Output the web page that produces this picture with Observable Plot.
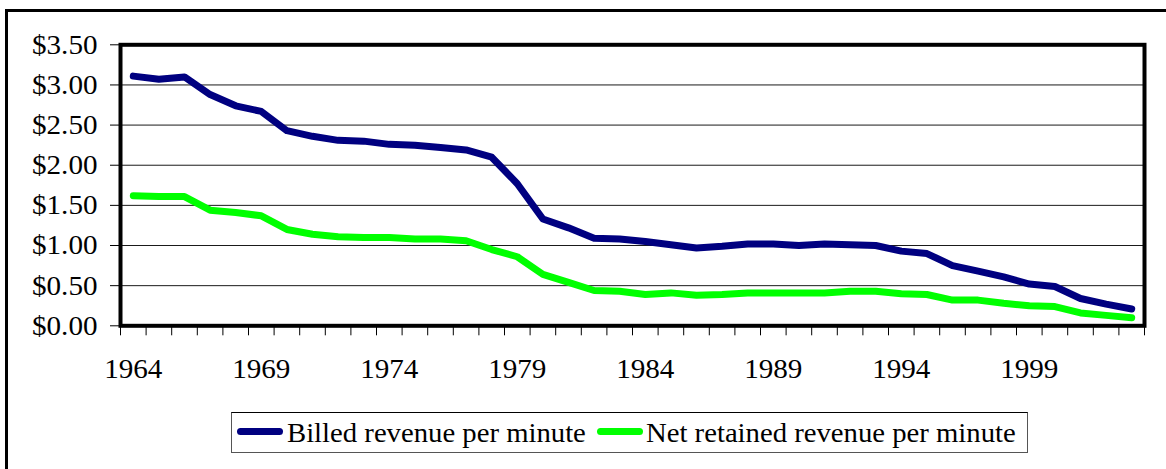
<!DOCTYPE html>
<html><head><meta charset="utf-8">
<script src="https://cdn.jsdelivr.net/npm/d3@7"></script>
<script src="https://cdn.jsdelivr.net/npm/@observablehq/plot@0.6"></script>
<style>
html,body{margin:0;padding:0;background:#fff;overflow:hidden;}
#wrap{position:relative;width:1166px;height:469px;overflow:hidden;font-family:"Liberation Serif","Times New Roman",serif;color:#000;}
#outer{position:absolute;left:5px;top:9px;width:1400px;height:700px;border:3px solid #000;box-sizing:border-box;}
#chart{position:absolute;left:0;top:0;}
#legend{position:absolute;left:231px;top:412px;width:797px;height:41px;box-sizing:border-box;border:1px solid #555;border-top-color:#000;display:flex;align-items:center;font-size:28px;background:#fff;}
.sw{width:46px;height:7px;border-radius:4px;position:relative;top:-1.5px;flex:none;}
.lt{display:inline-block;white-space:nowrap;transform-origin:0 50%;}
</style></head><body>
<div id="wrap"><div id="outer"></div><div id="chart"></div><div id="legend"></div></div>
<script>
const years = [1964,1965,1966,1967,1968,1969,1970,1971,1972,1973,
               1974,1975,1976,1977,1978,1979,1980,1981,1982,1983,
               1984,1985,1986,1987,1988,1989,1990,1991,1992,1993,
               1994,1995,1996,1997,1998,1999,2000,2001,2002,2003];
const billed = [3.11,3.07,3.10,2.88,2.74,2.67,2.43,2.36,2.31,2.30,
                2.26,2.25,2.22,2.19,2.10,1.77,1.33,1.22,1.09,1.08,
                1.05,1.01,0.97,0.99,1.02,1.02,1.00,1.02,1.01,1.00,
                0.93,0.90,0.75,0.68,0.61,0.52,0.49,0.34,0.27,0.21];
const net = [1.62,1.61,1.61,1.44,1.41,1.37,1.20,1.14,1.11,1.10,
             1.10,1.08,1.08,1.06,0.95,0.86,0.64,0.54,0.44,0.43,
             0.39,0.41,0.38,0.39,0.41,0.41,0.41,0.41,0.43,0.43,
             0.40,0.39,0.32,0.32,0.28,0.25,0.24,0.16,0.13,0.10];
const seriesNames = ["Billed revenue per minute","Net retained revenue per minute"];
const seriesColors = ["#000080","#00ff00"];
const yTicks = [0,0.5,1,1.5,2,2.5,3,3.5];
const labelYears = [1964,1969,1974,1979,1984,1989,1994,1999];

const K = 1.04;   // slight horizontal stretch of the reference axis text
const KL = 1.025; // legend text stretch
const rows = [];
years.forEach((yr,i)=>{
  rows.push({year:yr, value:billed[i], series:seriesNames[0]});
  rows.push({year:yr, value:net[i], series:seriesNames[1]});
});
const edges = years.map(y=>y-0.5).concat([years[years.length-1]+0.5]);

const H = 390;
const plot = Plot.plot({
  width:1166, height:H,
  marginLeft:120, marginRight:22, marginTop:44.3, marginBottom:H-325.3,
  style:{fontFamily:'"Liberation Serif","Times New Roman",serif', fontSize:"28px", color:"#000", background:"transparent", overflow:"visible"},
  x:{type:"linear", domain:[edges[0], edges[edges.length-1]]},
  y:{domain:[0,3.5]},
  color:{domain:seriesNames, range:seriesColors},
  marks:[
    Plot.gridY(yTicks.filter(v=>v>0 && v<3.5), {stroke:"#1a1a1a", strokeOpacity:1, strokeWidth:1}),
    Plot.axisY(yTicks, {tickSize:10, tickPadding:13, tickFormat:d3.format("$.2f"), label:null}),
    Plot.axisX(edges, {tickSize:10, tickFormat:()=>"", label:null}),
    Plot.axisX(labelYears, {tickSize:0, tickPadding:32, tickFormat:d=>String(d), label:null}),
    Plot.line(rows, {x:"year", y:"value", z:"series", stroke:"series", strokeWidth:7, strokeLinejoin:"round", strokeLinecap:"round"}),
    Plot.frame({stroke:"#000", strokeWidth:4})
  ]
});
document.getElementById("chart").appendChild(plot);
plot.querySelectorAll("text").forEach(t=>{
  const L = t.getComputedTextLength();
  if (L>0){ t.setAttribute("textLength", L*K); t.setAttribute("lengthAdjust","spacingAndGlyphs"); }
});

// legend
const lg = document.getElementById("legend");
const gaps = [[5,4],[11,3]];
seriesNames.forEach((name,i)=>{
  const sw = document.createElement("div");
  sw.className="sw"; sw.style.background=seriesColors[i];
  sw.style.marginLeft=gaps[i][0]+"px"; sw.style.marginRight=gaps[i][1]+"px";
  lg.appendChild(sw);
  const box = document.createElement("span");
  box.style.display="inline-block"; box.style.flex="none";
  const sp = document.createElement("span");
  sp.className="lt"; sp.textContent=name;
  box.appendChild(sp);
  lg.appendChild(box);
  const w = sp.getBoundingClientRect().width;
  sp.style.transform = `scaleX(${KL})`;
  box.style.width = (w*KL)+"px";
});
</script>
</body></html>
